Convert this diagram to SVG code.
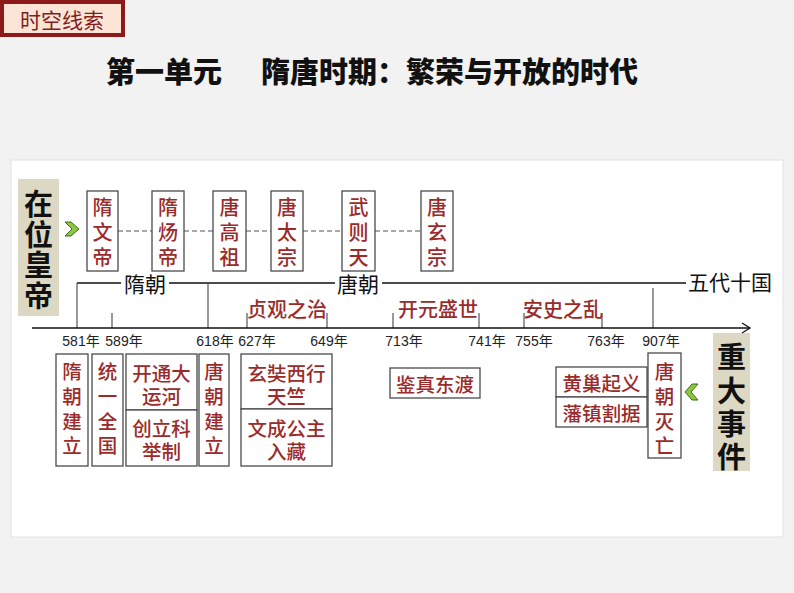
<svg xmlns="http://www.w3.org/2000/svg" width="794" height="593" viewBox="0 0 794 593">
<style>
.bg{fill:#f2f2f2}
.panel{fill:#ffffff;stroke:#e2e2e2;stroke-width:1}
.box{fill:#ffffff;stroke:#4a4a4a;stroke-width:1.3}
.red{font-family:"Noto Sans CJK SC",sans-serif;font-size:19.5px;fill:#9b2b2b;font-weight:500;text-anchor:middle;dominant-baseline:central}
.em{font-family:"Noto Sans CJK SC",sans-serif;font-size:20px;fill:#9b2b2b;font-weight:500;text-anchor:middle;dominant-baseline:central}
.yr{font-family:"Liberation Sans","Noto Sans CJK SC",sans-serif;font-size:14px;fill:#222;text-anchor:middle;dominant-baseline:central}
.dyn{font-family:"Noto Sans CJK SC",sans-serif;font-size:21px;fill:#111;text-anchor:middle;dominant-baseline:central}
.side{font-family:"Noto Sans CJK SC",sans-serif;font-size:29px;font-weight:700;fill:#111;text-anchor:middle;dominant-baseline:central}
.sidebox{fill:#ddd8c3}
.ln{stroke:#111;stroke-width:1.3;fill:none}
.vt{stroke:#555;stroke-width:1.2;fill:none}
.dash{stroke:#555;stroke-width:1.2;stroke-dasharray:5 3;fill:none}
.chev{fill:#8dc63f;stroke:#3f6e20;stroke-width:1}
</style>
<rect class="bg" x="0" y="0" width="794" height="593"/>
<rect class="panel" x="11" y="160" width="772" height="377"/>

<g id="header">
<rect x="2" y="2" width="121" height="33" fill="#fce4d6" stroke="#8b1a1a" stroke-width="4"/>
<text x="62" y="19" font-family="Noto Sans CJK SC, sans-serif" font-size="21" fill="#7f1f1f" text-anchor="middle" dominant-baseline="central">时空线索</text>
</g>
<g id="title">
<text x="106" y="70" font-family="Noto Sans CJK SC, sans-serif" font-size="29" font-weight="900" fill="#111" dominant-baseline="central">第一单元</text>
<text x="261" y="70" font-family="Noto Sans CJK SC, sans-serif" font-size="29" font-weight="900" fill="#111" dominant-baseline="central">隋唐时期：繁荣与开放的时代</text>
</g>

<g id="side-emperors">
<rect class="sidebox" x="18" y="179" width="41" height="137"/>
<text class="side"><tspan x="38.5" y="202">在</tspan><tspan x="38.5" y="233">位</tspan><tspan x="38.5" y="263">皇</tspan><tspan x="38.5" y="294">帝</tspan></text>
<polygon class="chev" points="65,222 71,222 79,229 71,236 65,236 72,229"/>
</g>
<g id="side-events">
<rect class="sidebox" x="713" y="333" width="37" height="138"/>
<text class="side"><tspan x="731.5" y="355">重</tspan><tspan x="731.5" y="389">大</tspan><tspan x="731.5" y="422">事</tspan><tspan x="731.5" y="455">件</tspan></text>
<polygon class="chev" points="698,384 692,384 685,392 692,400 698,400 691,392"/>
</g>

<g id="connectors">
<line class="dash" x1="118" y1="231" x2="152" y2="231"/>
<line class="dash" x1="184" y1="231" x2="213" y2="231"/>
<line class="dash" x1="246" y1="231" x2="271" y2="231"/>
<line class="dash" x1="303" y1="231" x2="342" y2="231"/>
<line class="dash" x1="375" y1="231" x2="421" y2="231"/>
<path class="ln" d="M77,283 H121 M169,283 H335 M382,283 H686"/>
<path class="vt" d="M77,283 V328 M208,283 V328 M653,288 V328 M112,313 V328 M247,313 V328 M327,313 V328 M393,313 V328 M479,313 V328 M524,313 V328 M602,313 V328"/>
<line class="ln" x1="32" y1="328" x2="750" y2="328" stroke-width="1.6"/>
<path class="ln" d="M742,323 L750,328 L742,333" stroke-width="1.4"/>
</g>

<g id="dynasties">
<text class="dyn" x="145" y="283">隋朝</text>
<text class="dyn" x="358" y="283">唐朝</text>
<text class="dyn" x="730" y="281">五代十国</text>
</g>

<g id="periods">
<text class="em" x="287" y="308">贞观之治</text>
<text class="em" x="438" y="308">开元盛世</text>
<text class="em" x="563" y="308">安史之乱</text>
</g>

<g id="years">
<text class="yr" x="81" y="341">581年</text>
<text class="yr" x="124" y="341">589年</text>
<text class="yr" x="215" y="341">618年</text>
<text class="yr" x="257" y="341">627年</text>
<text class="yr" x="329" y="341">649年</text>
<text class="yr" x="404" y="341">713年</text>
<text class="yr" x="487" y="341">741年</text>
<text class="yr" x="534" y="341">755年</text>
<text class="yr" x="606" y="341">763年</text>
<text class="yr" x="661" y="341">907年</text>
</g>

<g id="emp-suiwendi"><rect class="box" x="87" y="191" width="31" height="80"/><text class="em"><tspan x="102.5" y="206">隋</tspan><tspan x="102.5" y="231">文</tspan><tspan x="102.5" y="256">帝</tspan></text></g>
<g id="emp-suiyangdi"><rect class="box" x="152" y="191" width="32" height="80"/><text class="em"><tspan x="168" y="206">隋</tspan><tspan x="168" y="231">炀</tspan><tspan x="168" y="256">帝</tspan></text></g>
<g id="emp-tanggaozu"><rect class="box" x="213" y="191" width="33" height="80"/><text class="em"><tspan x="229.5" y="206">唐</tspan><tspan x="229.5" y="231">高</tspan><tspan x="229.5" y="256">祖</tspan></text></g>
<g id="emp-tangtaizong"><rect class="box" x="271" y="191" width="32" height="80"/><text class="em"><tspan x="287" y="206">唐</tspan><tspan x="287" y="231">太</tspan><tspan x="287" y="256">宗</tspan></text></g>
<g id="emp-wuzetian"><rect class="box" x="342" y="191" width="33" height="80"/><text class="em"><tspan x="358.5" y="206">武</tspan><tspan x="358.5" y="231">则</tspan><tspan x="358.5" y="256">天</tspan></text></g>
<g id="emp-tangxuanzong"><rect class="box" x="421" y="191" width="32" height="80"/><text class="em"><tspan x="437" y="206">唐</tspan><tspan x="437" y="231">玄</tspan><tspan x="437" y="256">宗</tspan></text></g>

<g id="ev-suijianli"><rect class="box" x="56" y="354" width="32" height="112"/><text class="red"><tspan x="72" y="370">隋</tspan><tspan x="72" y="395">朝</tspan><tspan x="72" y="420">建</tspan><tspan x="72" y="444">立</tspan></text></g>
<g id="ev-tongyi"><rect class="box" x="92" y="354" width="31" height="112"/><text class="red"><tspan x="107.5" y="370">统</tspan><tspan x="107.5" y="395">一</tspan><tspan x="107.5" y="420">全</tspan><tspan x="107.5" y="444">国</tspan></text></g>
<g id="ev-yunhe"><rect class="box" x="126" y="354" width="71" height="56"/><text class="red"><tspan x="161.5" y="372">开通大</tspan><tspan x="161.5" y="395">运河</tspan></text></g>
<g id="ev-keju"><rect class="box" x="126" y="410" width="71" height="56"/><text class="red"><tspan x="161.5" y="427">创立科</tspan><tspan x="161.5" y="450">举制</tspan></text></g>
<g id="ev-tangjianli"><rect class="box" x="199" y="354" width="30" height="112"/><text class="red"><tspan x="214" y="370">唐</tspan><tspan x="214" y="395">朝</tspan><tspan x="214" y="420">建</tspan><tspan x="214" y="444">立</tspan></text></g>
<g id="ev-xuanzang"><rect class="box" x="241" y="354" width="91" height="55"/><text class="red"><tspan x="286.5" y="372">玄奘西行</tspan><tspan x="286.5" y="395">天竺</tspan></text></g>
<g id="ev-wencheng"><rect class="box" x="241" y="409" width="91" height="57"/><text class="red"><tspan x="286.5" y="427">文成公主</tspan><tspan x="286.5" y="450">入藏</tspan></text></g>
<g id="ev-jianzhen"><rect class="box" x="390" y="368" width="90" height="30"/><text class="red" x="435" y="383">鉴真东渡</text></g>
<g id="ev-huangchao"><rect class="box" x="556" y="367" width="91" height="30"/><text class="red" x="601.5" y="382">黄巢起义</text></g>
<g id="ev-fanzhen"><rect class="box" x="556" y="397" width="91" height="30"/><text class="red" x="601.5" y="412">藩镇割据</text></g>
<g id="ev-tangmiewang"><rect class="box" x="648" y="353" width="33" height="105"/><text class="red"><tspan x="664.5" y="370">唐</tspan><tspan x="664.5" y="395">朝</tspan><tspan x="664.5" y="420">灭</tspan><tspan x="664.5" y="444">亡</tspan></text></g>
</svg>
